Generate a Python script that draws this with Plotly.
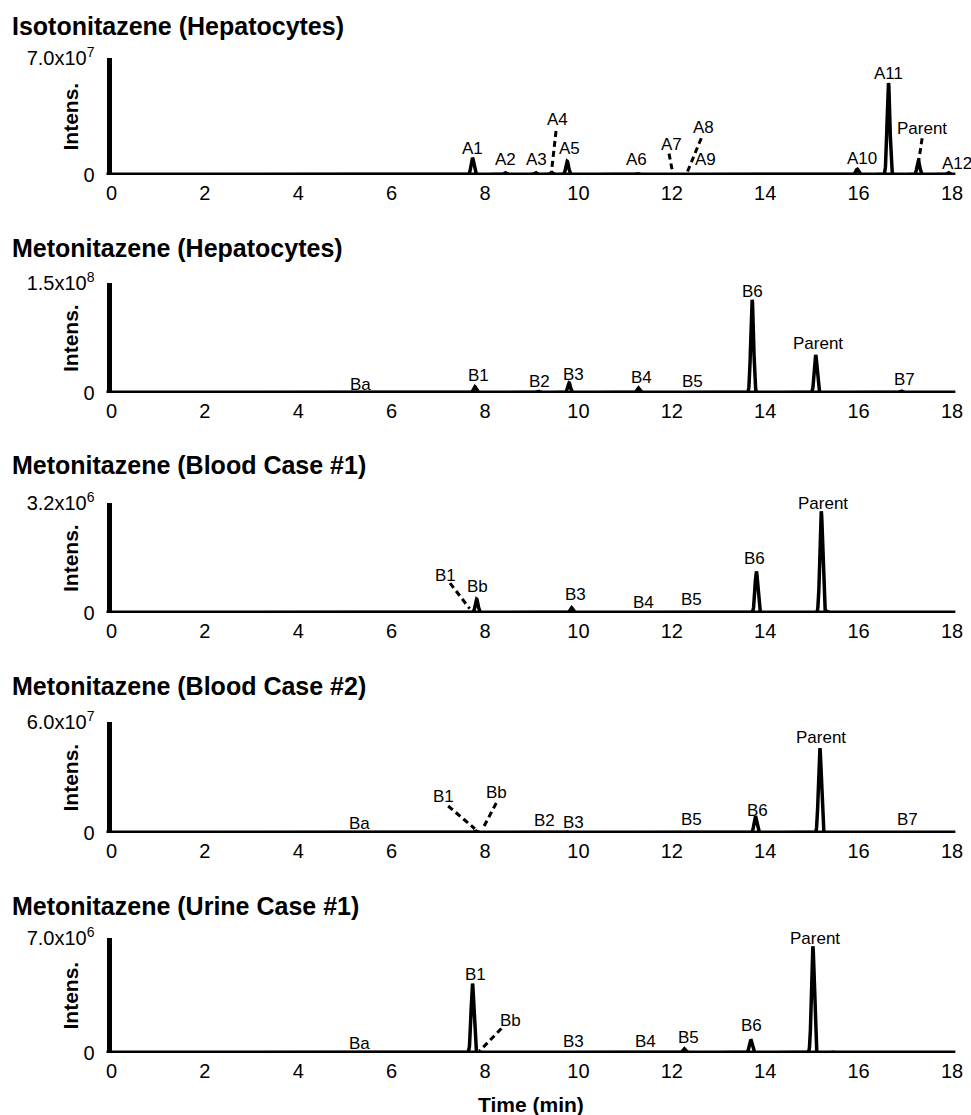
import numpy as np
import plotly.graph_objects as go

# ---------------- data ----------------
titles = ["Isotonitazene (Hepatocytes)", "Metonitazene (Hepatocytes)",
          "Metonitazene (Blood Case #1)", "Metonitazene (Blood Case #2)",
          "Metonitazene (Urine Case #1)"]
y_max = [7.0e7, 1.5e8, 3.2e6, 6.0e7, 7.0e6]
y_max_text = ["7.0x10<sup>7</sup>", "1.5x10<sup>8</sup>", "3.2x10<sup>6</sup>",
              "6.0x10<sup>7</sup>", "7.0x10<sup>6</sup>"]
x_ticks = [0, 2, 4, 6, 8, 10, 12, 14, 16, 18]

# peak retention times (min) and apex intensities
p1_t = [7.73, 8.43, 9.08, 9.42, 9.76, 11.26, 15.97, 16.64, 17.28, 17.92]
p1_h = [1.03e7, 1.4e6, 1.4e6, 1.6e6, 8.2e6, 8e5, 3.5e6, 5.5e7, 8.5e6, 1.4e6]
p2_t = [7.78, 9.14, 9.80, 11.28, 12.40, 13.72, 15.08, 16.91]
p2_h = [8.7e6, 2.3e6, 1.38e7, 6.9e6, 8e5, 1.27e8, 5.2e7, 2.7e6]
p3_t = [7.82, 9.85, 13.81, 15.20, 15.32]
p3_h = [4.07e5, 1.55e5, 1.21e6, 2.96e6, 5e4]
p4_t = [7.80, 9.76, 13.79, 15.17]
p4_h = [1.0e6, 5e5, 9.0e6, 4.6e7]
p5_t = [7.73, 12.26, 13.69, 15.02, 15.44]
p5_h = [4.24e6, 2.6e5, 8.2e5, 6.5e6, 6e4]

# peak labels: text, x (min), y (intensity)
l1_txt = ["A1", "A2", "A3", "A4", "A5", "A6", "A7", "A8", "A9", "A10", "A11", "Parent", "A12"]
l1_x = [7.74, 8.43, 9.10, 9.56, 9.80, 11.25, 11.99, 12.67, 12.73, 16.08, 16.64, 17.35, 17.74]
l1_y = [1.6e7, 9.3e6, 9.3e6, 3.3e7, 1.6e7, 9.3e6, 1.85e7, 2.84e7, 9.3e6, 1.0e7, 6.1e7, 2.8e7, 7.0e6]
l1_anchor = ["center"] * 12 + ["left"]
l2_txt = ["Ba", "B1", "B2", "B3", "B4", "B5", "B6", "Parent", "B7"]
l2_x = [5.34, 7.85, 9.17, 9.89, 11.35, 12.44, 13.72, 15.12, 16.98]
l2_y = [1.15e7, 2.39e7, 1.6e7, 2.52e7, 2.06e7, 1.6e7, 1.39e8, 6.8e7, 1.8e7]
l3_txt = ["B1", "Bb", "B3", "B4", "B5", "B6", "Parent"]
l3_x = [7.16, 7.84, 9.93, 11.40, 12.43, 13.78, 15.23]
l3_y = [1.1e6, 7.6e5, 5.3e5, 3.0e5, 3.9e5, 1.58e6, 3.18e6]
l4_txt = ["Ba", "B1", "Bb", "B2", "B3", "B5", "B6", "Parent", "B7"]
l4_x = [5.31, 7.12, 8.24, 9.27, 9.89, 12.43, 13.84, 15.19, 17.05]
l4_y = [5.0e6, 1.95e7, 2.2e7, 6.8e6, 5.9e6, 7.2e6, 1.23e7, 5.15e7, 7.2e6]
l5_txt = ["Ba", "B1", "Bb", "B3", "B4", "B5", "B6", "Parent"]
l5_x = [5.32, 7.79, 8.54, 9.89, 11.43, 12.35, 13.70, 15.07]
l5_y = [5.7e5, 4.75e6, 1.96e6, 6.7e5, 6.7e5, 9.4e5, 1.65e6, 6.97e6]

# dashed leader lines: [x_start, x_end], [y_start, y_end]
d1 = [([9.52, 9.42], [2.63e7, 1.2e6]), ([11.94, 12.02], [1.28e7, 1.0e6]),
      ([12.63, 12.32], [2.2e7, 1.0e6]), ([17.36, 17.28], [2.2e7, 7.0e6])]
d2 = []
d3 = [([7.25, 7.67], [8.7e5, 1.26e5])]
d4 = [([7.21, 7.78], [1.46e7, 2.3e6]), ([8.24, 7.95], [1.62e7, 2.3e6])]
d5 = [([8.35, 7.88], [1.49e6, 1.2e5])]

peak_t = [p1_t, p2_t, p3_t, p4_t, p5_t]
peak_h = [p1_h, p2_h, p3_h, p4_h, p5_h]
lab_txt = [l1_txt, l2_txt, l3_txt, l4_txt, l5_txt]
lab_x = [l1_x, l2_x, l3_x, l4_x, l5_x]
lab_y = [l1_y, l2_y, l3_y, l4_y, l5_y]
lab_anchor = [l1_anchor, None, None, None, None]
dashes = [d1, d2, d3, d4, d5]

# ---------------- layout geometry (pixels) ----------------
W, H = 971, 1115
top_px = [58, 283, 503, 722, 938]
base_px = [175, 393, 613, 833, 1053]
title_px = [26, 248, 465, 686, 906]
x_left_px, x_right_px = 111.5, 952
sigma = 0.03

FONT = "Liberation Sans, Arial, sans-serif"
fig = go.Figure()
t = np.linspace(0, 18, 4501)

annotations = []
shapes = []
for i in range(5):
    xa = "x" if i == 0 else f"x{i+1}"
    ya = "y" if i == 0 else f"y{i+1}"
    sig = np.zeros_like(t)
    for tc, hc in zip(peak_t[i], peak_h[i]):
        sig += hc * np.exp(-0.5 * ((t - tc) / sigma) ** 2)
    fig.add_trace(go.Scatter(x=t, y=sig, mode="lines", xaxis=xa, yaxis=ya,
                             line=dict(color="black", width=3.5), showlegend=False,
                             hoverinfo="skip"))
    for xs, ys in dashes[i]:
        fig.add_trace(go.Scatter(x=xs, y=ys, mode="lines", xaxis=xa, yaxis=ya,
                                 line=dict(color="black", width=3, dash="6px,4px"),
                                 showlegend=False, hoverinfo="skip"))
    anchors = lab_anchor[i] or ["center"] * len(lab_txt[i])
    for tx, lx, ly, an in zip(lab_txt[i], lab_x[i], lab_y[i], anchors):
        annotations.append(dict(x=lx, y=ly, xref=xa, yref=ya, text=tx, showarrow=False,
                                xanchor=an, yanchor="middle",
                                font=dict(family=FONT, size=17, color="black")))
    dom = [1 - base_px[i] / H, 1 - top_px[i] / H]
    axk = "xaxis" if i == 0 else f"xaxis{i+1}"
    ayk = "yaxis" if i == 0 else f"yaxis{i+1}"
    fig.update_layout(**{
        axk: dict(domain=[x_left_px / W, x_right_px / W], range=[0, 18], anchor=ya,
                  tickvals=x_ticks, ticktext=[str(v) for v in x_ticks],
                  showline=False, showgrid=False, zeroline=False, ticks="",
                  ticklabelstandoff=4, automargin=False,
                  tickfont=dict(family=FONT, size=20, color="black")),
        ayk: dict(domain=dom, range=[0, y_max[i]], anchor=xa,
                  tickvals=[0, y_max[i]], ticktext=["0", y_max_text[i]],
                  showline=True, linewidth=5, linecolor="black", automargin=False,
                  showgrid=False, zeroline=False, ticks="", ticklabelstandoff=8,
                  tickfont=dict(family=FONT, size=20, color="black")),
    })
    # baseline (x axis line) centred on zero intensity
    shapes.append(dict(type="line", xref=f"{xa} domain", yref=ya,
                       x0=-5 / (x_right_px - x_left_px), x1=1.004, y0=0, y1=0,
                       line=dict(color="black", width=5), layer="above"))
    annotations.append(dict(x=10 / W, y=1 - title_px[i] / H, xref="paper", yref="paper",
                            text=f"<b>{titles[i]}</b>", showarrow=False,
                            xanchor="left", yanchor="middle",
                            font=dict(family=FONT, size=25, color="black")))
    annotations.append(dict(x=70 / W, y=1 - (top_px[i] + base_px[i]) / 2 / H,
                            xref="paper", yref="paper", text="<b>Intens.</b>",
                            showarrow=False, textangle=-90, xanchor="center",
                            yanchor="middle",
                            font=dict(family=FONT, size=21, color="black")))

annotations.append(dict(x=531 / W, y=1 - 1104 / H, xref="paper", yref="paper",
                        text="<b>Time (min)</b>", showarrow=False, xanchor="center",
                        yanchor="middle", font=dict(family=FONT, size=21, color="black")))

fig.update_layout(width=W, height=H, margin=dict(l=0, r=0, t=0, b=0, autoexpand=False),
                  plot_bgcolor="white", paper_bgcolor="white",
                  annotations=annotations, shapes=shapes)
fig.write_html("out.html", config={"displayModeBar": False},
               post_script="document.body.style.margin='0';document.body.style.overflow='hidden';")
